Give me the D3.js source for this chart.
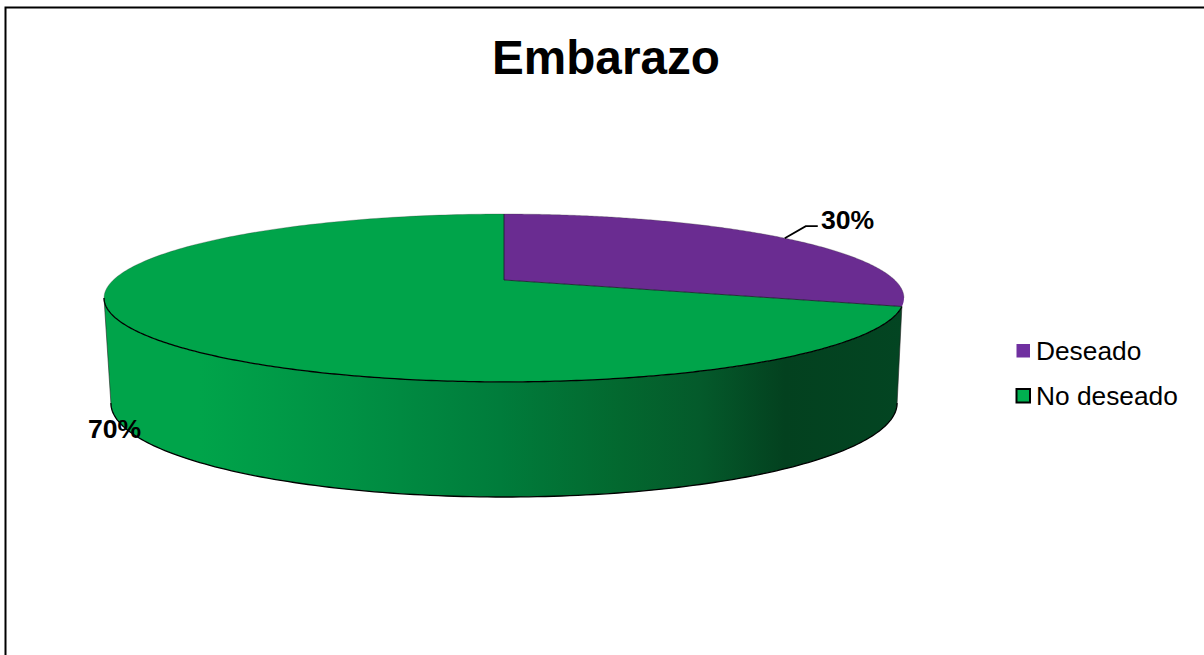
<!DOCTYPE html>
<html>
<head>
<meta charset="utf-8">
<script src="https://cdn.jsdelivr.net/npm/d3@7"></script>
<style>
html,body{margin:0;padding:0;background:#fff;overflow:hidden}
svg{display:block}
text{font-family:"Liberation Sans",Arial,sans-serif;fill:#000}
</style>
</head>
<body>
<svg id="chart" width="1204" height="655"></svg>
<script>
const title = "Embarazo";
const categories = ["Deseado", "No deseado"];
const values = [30, 70];
const labels = ["30%", "70%"];
const topColors = ["#6A2C91", "#00A44A"];
const legendColors = ["#7030A0", "#00B050"];
const sideStops = [
  [105, "#00A44A"], [200, "#00A44A"], [350, "#009144"], [500, "#007C3B"],
  [620, "#03682F"], [700, "#045A2B"], [785, "#03411F"], [904, "#034522"]
];

const svg = d3.select("#chart");
const defs = svg.append("defs");

// Perspective projection of a flat disc (angle clockwise from the far point)
const K = 0.214;
const cx = 504;
function projector(A, B, y0) {
  return a => {
    const u = Math.sin(a), v = Math.cos(a), w = 1 + K * v;
    return [cx + A * u / w, y0 - B * v / w];
  };
}
const topP = projector(390.7, 80.1, 280);
const botP = projector(384, 89.7, 382.9);
const horizon = Math.acos(-K); // angle at which the rim is widest

const pie = d3.pie().sort(null).value(d => d).startAngle(0).endAngle(2 * Math.PI);
const arcs = pie(values);

const line = d3.line();
const sample = (a0, a1, n = 160) => d3.range(n + 1).map(i => a0 + (a1 - a0) * i / n);

// Side wall: the part of the last slice that faces the viewer
const green = arcs[1];
const sideA0 = green.startAngle, sideA1 = 2 * Math.PI - horizon;
const grad = defs.append("linearGradient").attr("id", "side")
  .attr("gradientUnits", "userSpaceOnUse")
  .attr("x1", sideStops[0][0]).attr("x2", sideStops[sideStops.length - 1][0])
  .attr("y1", 0).attr("y2", 0);
const sx = d3.scaleLinear().domain([sideStops[0][0], sideStops[sideStops.length - 1][0]]).range([0, 1]);
sideStops.forEach(s => grad.append("stop").attr("offset", sx(s[0])).attr("stop-color", s[1]));

const sidePts = sample(sideA0, sideA1).map(topP)
  .concat(sample(sideA1, horizon).map(botP));
svg.append("path").attr("d", line(sidePts) + "Z")
  .attr("fill", "url(#side)").attr("stroke", "none");
svg.append("path").attr("d", line(sample(sideA1, horizon).map(botP)))
  .attr("fill", "none").attr("stroke", "#000").attr("stroke-width", 1.3);
svg.append("path").attr("d", line([topP(sideA1), botP(sideA1)]))
  .attr("fill", "none").attr("stroke", "#222").attr("stroke-opacity", 0.6).attr("stroke-width", 1);
svg.append("path").attr("d", line([topP(sideA0), botP(horizon)]))
  .attr("fill", "none").attr("stroke", "#222").attr("stroke-opacity", 0.6).attr("stroke-width", 1);

// Top faces
const apex = [cx, 280];
arcs.forEach((d, i) => {
  const pts = [apex].concat(sample(d.startAngle, d.endAngle, 240).map(topP));
  svg.append("path").attr("d", line(pts) + "Z").attr("fill", topColors[i]).attr("stroke", "none");
});
// Back rim (faint), front rim and radii (dark)
svg.append("path").attr("d", line(sample(sideA1, 2 * Math.PI + horizon, 240).map(topP)))
  .attr("fill", "none").attr("stroke", "#333").attr("stroke-opacity", 0.35).attr("stroke-width", 0.8);
svg.append("path").attr("d", line(sample(sideA0, sideA1, 240).map(topP)))
  .attr("fill", "none").attr("stroke", "#000").attr("stroke-width", 1.3);
svg.append("path").attr("d", line([topP(0), apex, topP(green.startAngle)]))
  .attr("fill", "none").attr("stroke", "#1c1c2c").attr("stroke-opacity", 0.85).attr("stroke-width", 1);

// Frame: top and left only
svg.append("path").attr("d", "M5.5,655V7.5H1204")
  .attr("fill", "none").attr("stroke", "#000").attr("stroke-width", 2);

// Title
svg.append("text").attr("x", 606).attr("y", 74).attr("text-anchor", "middle")
  .attr("font-size", 47.7).attr("font-weight", "bold").text(title);

// Data labels
const mid = topP((arcs[0].startAngle + arcs[0].endAngle) / 2);
svg.append("path")
  .attr("d", line([mid, [mid[0] + 21, mid[1] - 12], [mid[0] + 33, mid[1] - 12]]))
  .attr("fill", "none").attr("stroke", "#000").attr("stroke-width", 1.8);
svg.append("text").attr("x", 821).attr("y", 229).attr("font-size", 26.6)
  .attr("font-weight", "bold").text(labels[0]);
svg.append("text").attr("x", 88).attr("y", 438).attr("font-size", 26.6)
  .attr("font-weight", "bold").text(labels[1]);

// Legend
const legendY = d3.scalePoint().domain(categories).range([351, 396]);
const legend = svg.append("g").selectAll("g").data(categories).join("g")
  .attr("transform", d => `translate(0,${legendY(d)})`);
legend.append("rect").attr("x", 1016.5).attr("y", -7)
  .attr("width", 13.5).attr("height", 13.5)
  .attr("fill", (d, i) => legendColors[i])
  .attr("stroke", (d, i) => i === 1 ? "#000" : "none")
  .attr("stroke-width", 2);
legend.append("text").attr("x", 1036).attr("y", 9).attr("font-size", 26.3).text(d => d);
</script>
</body>
</html>
